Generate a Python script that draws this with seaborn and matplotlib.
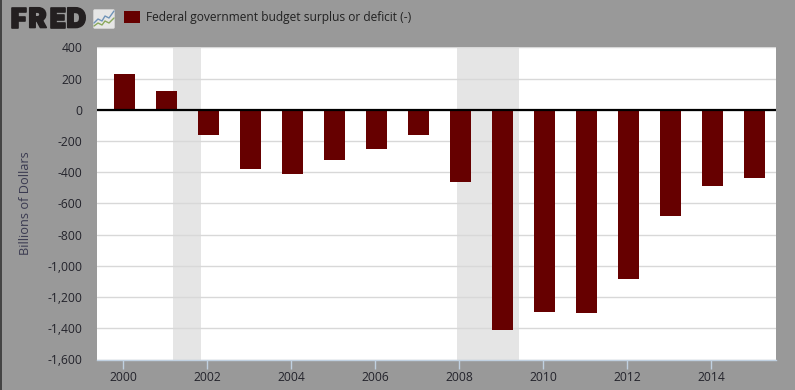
#!/usr/bin/env python3
# FRED chart: federal budget surplus or deficit
import matplotlib
matplotlib.use('Agg')
import matplotlib.pyplot as plt
import matplotlib.patheffects as pe
from matplotlib.patches import Rectangle, FancyBboxPatch
import pandas as pd
import seaborn as sns

years = [2000, 2001, 2002, 2003, 2004, 2005, 2006, 2007,
         2008, 2009, 2010, 2011, 2012, 2013, 2014, 2015]
deficit = [231, 122, -158, -378, -413, -318, -248, -161,
           -459, -1413, -1294, -1300, -1087, -680, -485, -439]
recessions = [(2001.16, 2001.83), (2007.93, 2009.41)]
y_ticks = [400, 200, 0, -200, -400, -600, -800, -1000, -1200, -1400, -1600]
x_ticks = [2000, 2002, 2004, 2006, 2008, 2010, 2012, 2014]
series_name = 'Federal government budget surplus or deficit (-)'

BG = '#999999'
BAR = '#660000'
TEXT = '#23232b'
W, H = 795, 390

sns.set_theme(style='white')
plt.rcParams['font.family'] = ['Open Sans', 'DejaVu Sans']

df = pd.DataFrame({'year': years, 'deficit': deficit})

fig = plt.figure(figsize=(W / 100, H / 100), dpi=100, facecolor=BG)
# plot area in pixels: x 97-776, y 47-359
ax = fig.add_axes([97 / W, 1 - 359.5 / H, 679 / W, 312 / H])
ax.set_facecolor('white')

for start, end in recessions:
    ax.axvspan(start, end, color='#e5e5e5', lw=0, zorder=0.5)

ax.set_axisbelow(True)
ax.yaxis.grid(True, color='#d8d8d8', lw=1)
ax.xaxis.grid(False)

sns.barplot(data=df, x='year', y='deficit', native_scale=True, width=0.5,
            color=BAR, saturation=1, ax=ax, zorder=2, errorbar=None,
            edgecolor=BAR, linewidth=0)
for bar in ax.patches:
    if isinstance(bar, Rectangle):
        bar.set_x(bar.get_x() + 0.02)

ax.axhline(0, color='black', lw=1.6, zorder=3)

ax.set_xlim(1999.37, 2015.54)
ax.set_ylim(-1600, 400)
ax.set_xticks(x_ticks)
ax.set_yticks(y_ticks)
ax.set_yticklabels([f'{v:,}' for v in y_ticks])
ax.set_xlabel('')
ax.set_ylabel('Billions of Dollars', fontsize=9.2, color='#3a3a50')
ax.yaxis.set_label_coords(-0.095, 0.5)
ax.tick_params(axis='y', length=0, pad=10.5, labelsize=8.7, labelcolor=TEXT)
ax.tick_params(axis='x', length=6.5, width=1, color='#c0d0e0', pad=1.5,
               labelsize=8.7, labelcolor=TEXT, bottom=True)
for side in ['top', 'left', 'right']:
    ax.spines[side].set_visible(False)
ax.spines['bottom'].set_color('#c0d0e0')
ax.spines['bottom'].set_linewidth(1)

# dark stripe down the left edge
fig.add_artist(Rectangle((0, 0), 1.5 / W, 1, transform=fig.transFigure,
                         color='#444444', lw=0))

# logo, letter by letter because the real one is spaced wider
for letter, px in zip('FRED', [11, 28.5, 49.5, 66.5]):
    t = fig.text(px / W, 1 - 27.5 / H, letter, fontsize=19.5, fontweight='black',
                 family=['Inter', 'DejaVu Sans'], color='#231f20')
    t.set_path_effects([pe.withStroke(linewidth=1.2, foreground='#231f20')])
icon = fig.add_axes([93 / W, 1 - 29 / H, 22 / W, 20 / H])
icon.set_xlim(0, 22)
icon.set_ylim(0, 20)
icon.axis('off')
icon.add_patch(FancyBboxPatch((0.3, 0.3), 21.4, 19.4, boxstyle='round,pad=0,rounding_size=2',
                              fc='#e6e6e6', ec='#cfcfcf', lw=0.5))
icon.plot([1, 5, 9, 12, 16, 21], [6, 10, 8, 13, 11, 18], color='#6f93b8', lw=1)
icon.plot([1, 5, 9, 12, 16, 21], [3, 6, 4, 8, 6, 11], color='#8aa85c', lw=1)

# legend
fig.add_artist(Rectangle((124 / W, 1 - 23 / H), 16 / W, 12 / H,
                         transform=fig.transFigure, color=BAR, lw=0))
fig.text(145.5 / W, 1 - 17.5 / H, series_name, fontsize=8.62, color='#222222', va='center')

fig.savefig('out.png', dpi=100, facecolor=BG)
